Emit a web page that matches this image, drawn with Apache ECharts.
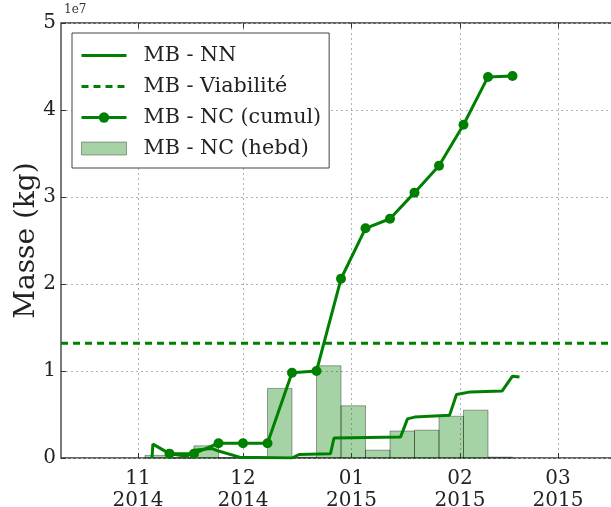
<!DOCTYPE html>
<html>
<head>
<meta charset="utf-8">
<script src="https://cdn.jsdelivr.net/npm/echarts@6/dist/echarts.min.js"></script>
<style>
html,body{margin:0;padding:0;background:#fff;}
#chart{width:611px;height:507px;}
</style>
</head>
<body>
<div id="chart"></div>
<script>
// ---- Data (values in units of 1e7 kg) ----
var tickMonths = ['2014-11-01', '2014-12-01', '2015-01-01', '2015-02-01', '2015-03-01'];
var yTicks = [0, 1, 2, 3, 4, 5];

var cumulDates = ['2014-11-10', '2014-11-17', '2014-11-24', '2014-12-01', '2014-12-08', '2014-12-15', '2014-12-22', '2014-12-29',
                  '2015-01-05', '2015-01-12', '2015-01-19', '2015-01-26', '2015-02-02', '2015-02-09', '2015-02-16'];
var cumulValues = [0.05, 0.05, 0.17, 0.17, 0.17, 0.98, 1.00, 2.06, 2.64, 2.75, 3.05, 3.36, 3.83, 4.38, 4.39];

var hebdDates = ['2014-11-03', '2014-11-10', '2014-11-17', '2014-11-24', '2014-12-01', '2014-12-08', '2014-12-15', '2014-12-22',
                 '2014-12-29', '2015-01-05', '2015-01-12', '2015-01-19', '2015-01-26', '2015-02-02', '2015-02-09'];
var hebdValues = [0.03, 0.0, 0.14, 0.0, 0.0, 0.80, 0.01, 1.06, 0.60, 0.09, 0.31, 0.32, 0.48, 0.55, 0.01];

var nnDates = ['2014-11-05 00:00', '2014-11-05 06:00', '2014-11-10', '2014-11-15', '2014-11-17', '2014-11-22', '2014-11-24', '2014-11-30',
               '2014-12-15', '2014-12-17', '2014-12-26', '2014-12-27', '2015-01-15', '2015-01-17', '2015-01-19', '2015-01-29',
               '2015-01-31', '2015-02-04', '2015-02-13', '2015-02-16', '2015-02-18'];
var nnValues = [0.0, 0.16, 0.05, 0.02, 0.09, 0.11, 0.08, 0.01,
                0.0, 0.04, 0.05, 0.23, 0.24, 0.45, 0.47, 0.49,
                0.73, 0.76, 0.77, 0.94, 0.93];

var viabiliteValue = 1.32;
var xMinDate = '2014-10-10';
var xMaxDate = '2015-03-17';

// ---- helpers ----
function toTime(s) {
  var p = s.split(' ');
  var d = p[0].split('-');
  var h = p[1] ? p[1].split(':') : ['0', '0'];
  return new Date(+d[0], +d[1] - 1, +d[2], +h[0], +h[1]).getTime();
}
function addDays(t, n) {
  var d = new Date(t);
  d.setDate(d.getDate() + n);
  return d.getTime();
}
var FONT = 'DejaVu Serif';
var GREEN = '#008000';
var xMin = toTime(xMinDate), xMax = toTime(xMaxDate);
var ticks = tickMonths.map(toTime);

var cumulData = cumulDates.map(function (d, i) { return [toTime(d), cumulValues[i]]; });
var nnData = nnDates.map(function (d, i) { return [toTime(d), nnValues[i]]; });
var hebdData = hebdDates.map(function (d, i) { var t = toTime(d); return [t, hebdValues[i], addDays(t, 7)]; });

var chart = echarts.init(document.getElementById('chart'), null, {renderer: 'canvas'});

var hidden = {color: 'rgba(0,0,0,0)', borderWidth: 0, opacity: 0};
var gridLine = {type: [2, 3], color: '#b0b0b0', width: 1};

var option = {
  animation: false,
  backgroundColor: '#fff',
  grid: {left: 61, top: 23, right: -3, bottom: 49, outerBoundsMode: 'none', containLabel: false,
         show: true, borderColor: '#333', borderWidth: 1.3, backgroundColor: 'transparent'},
  legend: {
    orient: 'vertical', left: 72, top: 33,
    padding: [12, 8, 9, 8],
    itemGap: 10, itemWidth: 45, itemHeight: 13,
    backgroundColor: '#fff', borderColor: '#444', borderWidth: 1, borderRadius: 0,
    lineStyle: {width: 3},
    textStyle: {fontFamily: FONT, fontSize: 20.7, color: '#222', padding: [0, 0, 0, 12]},
    data: [
      {name: 'MB - NN', itemStyle: hidden},
      {name: 'MB - Viabilité', itemStyle: hidden},
      {name: 'MB - NC (cumul)'},
      {name: 'MB - NC (hebd)', icon: 'rect', itemStyle: {color: 'rgba(0,128,0,0.35)', borderColor: 'rgba(0,0,0,0.35)', borderWidth: 1}}
    ]
  },
  graphic: [
    {type: 'text', left: 64, top: 4, style: {text: '1e7', font: '12px "DejaVu Serif"', fill: '#333'}}
  ],
  xAxis: [{
    type: 'value', min: xMin, max: xMax, scale: true,
    axisLine: {show: false},
    axisTick: {show: true, inside: true, length: 5, customValues: ticks, lineStyle: {color: '#333'}},
    axisLabel: {
      customValues: ticks, fontFamily: FONT, fontSize: 20, color: '#222', lineHeight: 22, margin: 10,
      formatter: function (v) {
        var d = new Date(v);
        var m = d.getMonth() + 1;
        return (m < 10 ? '0' + m : '' + m) + '\n' + d.getFullYear();
      }
    },
    splitLine: {show: true, lineStyle: gridLine}
  }, {
    type: 'value', min: xMin, max: xMax, scale: true, position: 'top',
    axisLine: {show: false},
    axisTick: {show: true, inside: true, length: 5, customValues: ticks, lineStyle: {color: '#333'}},
    axisLabel: {show: false},
    splitLine: {show: false}
  }],
  yAxis: {
    type: 'value', min: 0, max: 5, interval: 1,
    name: 'Masse (kg)', nameLocation: 'middle', nameGap: 20, nameRotate: 90, nameMoveOverlap: false,
    nameTextStyle: {fontFamily: FONT, fontSize: 28, color: '#222'},
    axisLine: {show: false},
    axisTick: {show: true, inside: true, length: 5, lineStyle: {color: '#333'}},
    axisLabel: {fontFamily: FONT, fontSize: 20, color: '#222', margin: 5,
      formatter: function (v) { return yTicks.indexOf(v) >= 0 ? String(v) : ''; }},
    splitLine: {show: true, lineStyle: gridLine}
  },
  series: [
    {
      name: 'MB - NC (hebd)', type: 'custom', z: 1,
      itemStyle: {color: 'rgba(0,128,0,0.35)'},
      encode: {x: [0, 2], y: 1},
      data: hebdData,
      renderItem: function (params, api) {
        var p0 = api.coord([api.value(0), api.value(1)]);
        var p1 = api.coord([api.value(2), 0]);
        var r = {x: p0[0], y: p0[1], width: p1[0] - p0[0], height: p1[1] - p0[1]};
        return {type: 'rect', shape: r, style: {fill: 'rgba(0,128,0,0.35)', stroke: 'rgba(0,0,0,0.35)', lineWidth: 1}};
      }
    },
    {
      name: 'MB - Viabilité', type: 'line', z: 3, symbol: 'none',
      data: [[xMin, viabiliteValue], [xMax, viabiliteValue]],
      itemStyle: {color: GREEN},
      lineStyle: {color: GREEN, width: 3, type: [7, 5]}
    },
    {
      name: 'MB - NN', type: 'line', z: 4, symbol: 'none',
      data: nnData,
      itemStyle: {color: GREEN},
      lineStyle: {color: GREEN, width: 3}
    },
    {
      name: 'MB - NC (cumul)', type: 'line', z: 5, symbol: 'circle', symbolSize: 10,
      data: cumulData,
      itemStyle: {color: GREEN},
      lineStyle: {color: GREEN, width: 3}
    }
  ]
};
chart.setOption(option);
</script>
</body>
</html>
